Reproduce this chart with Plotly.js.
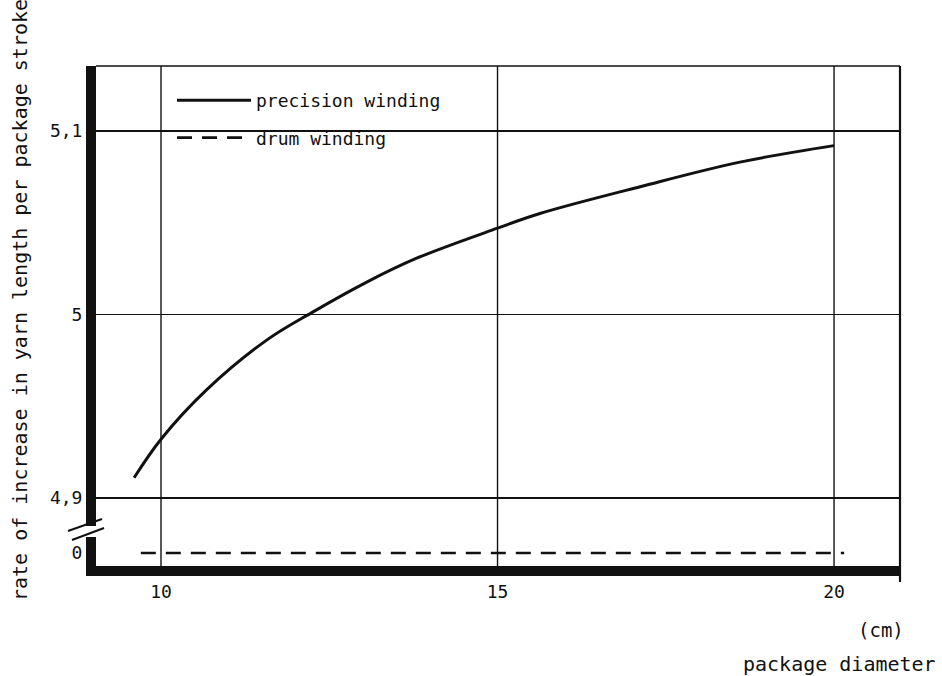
<!DOCTYPE html>
<html>
<head>
<meta charset="utf-8">
<script src="https://cdn.plot.ly/plotly-3.0.1.min.js"></script>
<style>html,body{margin:0;padding:0;background:#fff;}#chart{width:942px;height:676px;}</style>
</head>
<body>
<div id="chart"></div>
<script>
// ---- data ----
const xPrecision = [9.6, 10.0, 10.68, 11.57, 12.24, 13.05, 13.79, 15.0, 15.63, 17.12, 18.6, 20.0];
const yPrecision = [4.911, 4.932, 4.959, 4.986, 5.001, 5.0175, 5.0305, 5.047, 5.055, 5.0696, 5.083, 5.092];
const xDrum = [9.7, 12.0, 15.0, 18.0, 20.15];
const yDrum = [0, 0, 0, 0, 0];
const xTickVals = [10, 15, 20];
const xTickText = ['10', '15', '20'];
const yUpperTickVals = [4.9, 5.0, 5.1];
const yUpperTickText = ['4,9', '5', '5,1'];
const yLowerTickVals = [0];
const yLowerTickText = ['0'];
const seriesNames = ['precision winding', 'drum winding'];

const FONT = 'DejaVu Sans Mono, monospace';
const INK = '#111111';

// paper helpers (plot area: left 96, right 900, top 66, bottom 566)
const L = 96, R = 900, T = 66, B = 566;
const px = v => (v - L) / (R - L);
const py = v => (B - v) / (B - T);

const traces = [
  {
    x: xPrecision, y: yPrecision, xaxis: 'x2', yaxis: 'y',
    mode: 'lines', name: seriesNames[0], legendgroup: 'a',
    line: {color: INK, width: 3, shape: 'spline', smoothing: 1.0}
  },
  {
    x: xDrum, y: yDrum, xaxis: 'x', yaxis: 'y2',
    mode: 'lines', name: seriesNames[1], legendgroup: 'b',
    line: {color: INK, width: 2.6, dash: '15px,10px'}
  }
];

const shapes = [];
// vertical grid lines through the x scale
xTickVals.forEach(v => shapes.push({
  type: 'line', xref: 'x', yref: 'paper', x0: v, x1: v, y0: 0, y1: 1,
  line: {color: INK, width: 1.4}, layer: 'below'
}));
// top and right frame
shapes.push({type: 'line', xref: 'paper', yref: 'paper', x0: 0, x1: 1, y0: 1, y1: 1, line: {color: INK, width: 1.6}});
shapes.push({type: 'line', xref: 'paper', yref: 'paper', x0: 1, x1: 1, y0: py(582), y1: 1, line: {color: INK, width: 2.2}});
// axis break marks
shapes.push({type: 'line', xref: 'paper', yref: 'paper', x0: px(68), y0: py(531), x1: px(102), y1: py(519), line: {color: INK, width: 2}});
shapes.push({type: 'line', xref: 'paper', yref: 'paper', x0: px(72), y0: py(540), x1: px(104), y1: py(528), line: {color: INK, width: 2}});

const layout = {
  width: 942, height: 676,
  margin: {l: L, r: 942 - R, t: T, b: 676 - B},
  paper_bgcolor: '#ffffff', plot_bgcolor: '#ffffff',
  font: {family: FONT, color: INK, size: 18},
  showlegend: true,
  legend: {
    x: px(172), y: py(82), xanchor: 'left', yanchor: 'top',
    bgcolor: 'rgba(0,0,0,0)', borderwidth: 0,
    font: {family: FONT, size: 18, color: INK},
    itemwidth: 74, tracegroupgap: 11, traceorder: 'grouped'
  },
  xaxis: {
    anchor: 'y2', domain: [0, 1], range: [9.034, 20.98],
    tickmode: 'array', tickvals: xTickVals, ticktext: xTickText,
    ticks: '', showgrid: false, zeroline: false,
    showline: true, linecolor: INK, linewidth: 10,
    tickfont: {family: FONT, size: 18, color: INK}
  },
  xaxis2: {
    anchor: 'y', matches: 'x', range: [9.034, 20.98],
    showticklabels: false, ticks: '', showgrid: false, zeroline: false, showline: false
  },
  yaxis: {
    anchor: 'x2', domain: [py(526), 1], range: [4.8847, 5.1354],
    tickmode: 'array', tickvals: yUpperTickVals, ticktext: yUpperTickText,
    ticks: '', showgrid: true, gridcolor: INK, gridwidth: 1.4, zeroline: false,
    showline: true, linecolor: INK, linewidth: 10,
    tickfont: {family: FONT, size: 18, color: INK}
  },
  yaxis2: {
    anchor: 'x', domain: [0, py(537)], range: [-1.3, 1.6],
    tickmode: 'array', tickvals: yLowerTickVals, ticktext: yLowerTickText,
    ticks: '', showgrid: false, zeroline: false,
    showline: true, linecolor: INK, linewidth: 10,
    tickfont: {family: FONT, size: 18, color: INK}
  },
  shapes: shapes,
  annotations: [
    {text: 'rate of increase in yarn length per package stroke', xref: 'paper', yref: 'paper',
     x: px(20), y: py(300), xanchor: 'center', yanchor: 'middle', textangle: -90, showarrow: false,
     font: {family: FONT, size: 20, color: INK}},
    {text: '(cm)', xref: 'paper', yref: 'paper', x: px(881), y: py(630), xanchor: 'center', yanchor: 'middle',
     showarrow: false, font: {family: FONT, size: 19, color: INK}},
    {text: 'package diameter', xref: 'paper', yref: 'paper', x: px(839), y: py(664), xanchor: 'center', yanchor: 'middle',
     showarrow: false, font: {family: FONT, size: 20, color: INK}}
  ]
};

Plotly.newPlot('chart', traces, layout, {displayModeBar: false, staticPlot: true});
</script>
</body>
</html>
